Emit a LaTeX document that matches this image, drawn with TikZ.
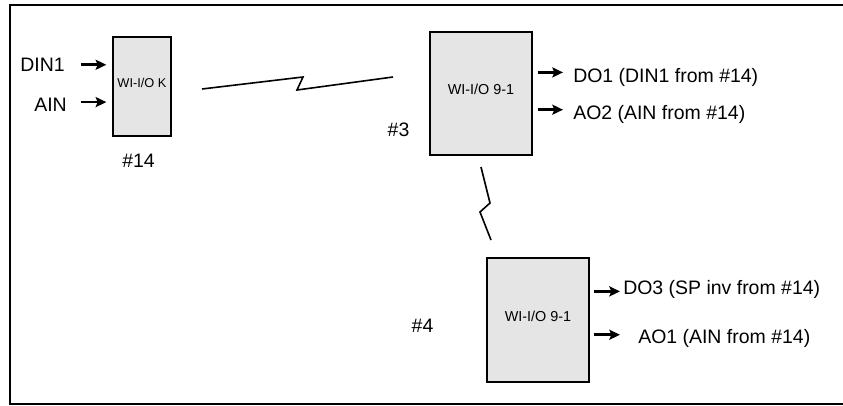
\documentclass[tikz,border=0pt]{standalone}
\usepackage{fontspec}
\setmainfont{Liberation Sans}
\usetikzlibrary{positioning,arrows,arrows.meta}
\tikzset {
unit/.style={shape=rectangle,draw,fill=black!10,line width=1pt,inner sep=0pt,text depth=6pt},
signal/.style={font=\fontsize{14.6}{17}\selectfont,inner sep=0pt,text height=10pt,text depth=0pt},
feed/.style={->,line width=2pt},
radio/.style={line width=1.2pt}
}

\begin{document}
\begin{tikzpicture}
[x=0.75pt,y=-0.75pt,>={Stealth[length=8pt,width=7.5pt,inset=1.5pt]}]
\useasboundingbox (0,0) rectangle (843,406);
\draw[line width=1.6pt] (843,5) -- (10,5) -- (10,404) -- (843,404);

\node[unit,minimum width=43.5pt,minimum height=74.25pt,font=\fontsize{9.6}{11}\selectfont] (box k) at (142,86.5) {WI-I/O K};
\node[unit,minimum width=76.5pt,minimum height=92.25pt,font=\fontsize{10.8}{12}\selectfont] (box 3) at (481,93.5) {WI-I/O 9-1};
\node[unit,minimum width=76.5pt,minimum height=93pt,font=\fontsize{10.8}{12}\selectfont] (box 4) at (538,320) {WI-I/O 9-1};

\node[signal,anchor=south east] (din1) at (65,71.7) {DIN1};
\node[signal,anchor=south east] (ain) at (67,111.7) {AIN};
\node[signal,anchor=south] (num 14) at (138.5,168) {\#14};
\node[signal,anchor=south] (num 3) at (398.5,137) {\#3};
\node[signal,anchor=south] (num 4) at (422.5,333) {\#4};
\node[signal,anchor=south west] (do1) at (573,82.7) {DO1 (DIN1 from \#14)};
\node[signal,anchor=south west] (ao2) at (573,119.3) {AO2 (AIN from \#14)};
\node[signal,anchor=south west] (do3) at (623,295) {DO3 (SP inv from \#14)};
\node[signal,anchor=south west] (ao1) at (638,343.3) {AO1 (AIN from \#14)};

\coordinate (k tx) at (202,89);
\coordinate (3 rx) at (393,77);
\coordinate (3 tx) at (481,167);
\coordinate (4 rx) at (491,240);

\draw[feed,shorten <=12pt,shorten >=4.5pt] (din1.east) -- (box k.west |- din1.east);
\draw[feed,shorten <=10.5pt,shorten >=4.5pt] ([yshift=2pt]ain.east) -- ([yshift=2pt]box k.west |- ain.east);
\draw[feed,shorten <=3.75pt,shorten >=7.5pt] ([yshift=2.5pt]box 3.east |- do1.west) -- ([yshift=2.5pt]do1.west);
\draw[feed,shorten <=3.75pt,shorten >=7.5pt] ([yshift=2pt]box 3.east |- ao2.west) -- ([yshift=2pt]ao2.west);
\draw[feed,shorten <=3pt,shorten >=2.25pt] ([yshift=-2.5pt]box 4.east |- do3.west) -- ([yshift=-2.5pt]do3.west);
\draw[feed,shorten <=3pt,shorten >=13.5pt] ([yshift=1.2pt]box 4.east |- ao1.west) -- ([yshift=1.2pt]ao1.west);

\draw[radio] (k tx) -- (303,77) -- (297,90) -- (3 rx);
\draw[radio] (3 tx) -- (490,203) -- (480,212) -- (4 rx);
\end{tikzpicture}
\end{document}
